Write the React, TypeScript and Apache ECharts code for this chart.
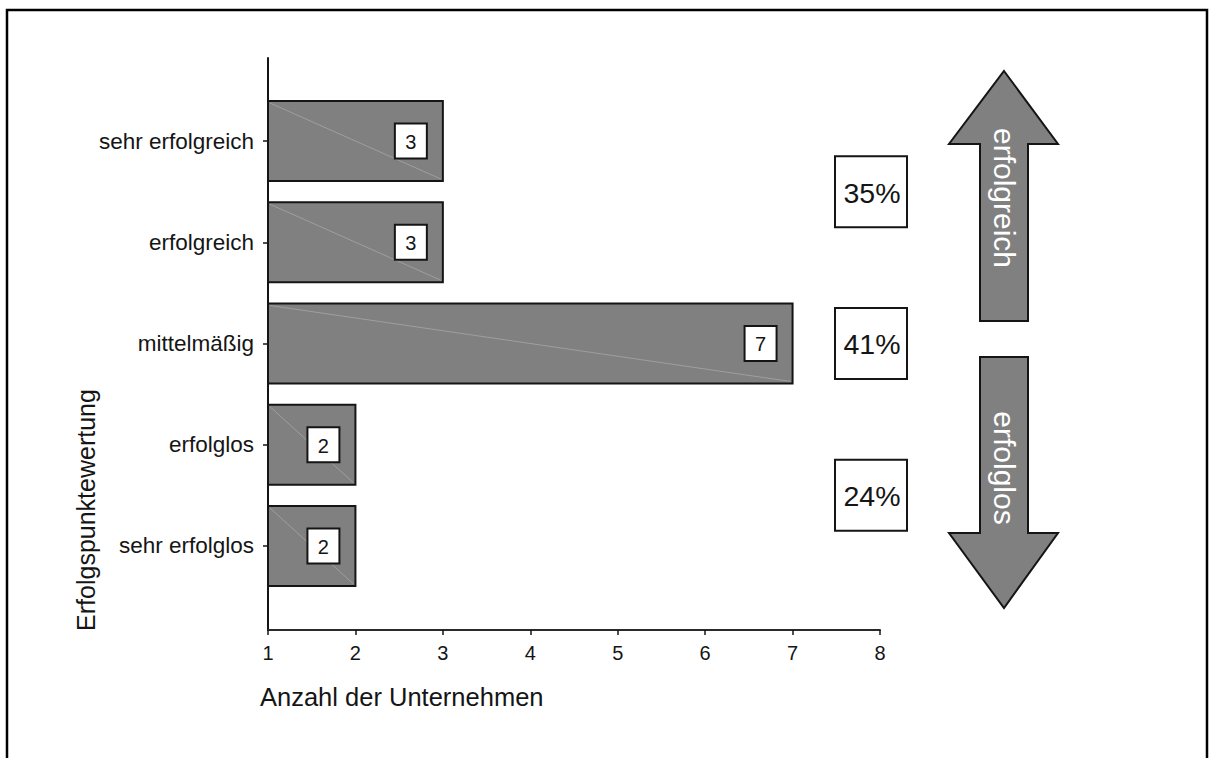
import React, { useEffect, useRef } from "react";
import * as echarts from "echarts";

// ---- data ----
const categories = ["sehr erfolglos", "erfolglos", "mittelmäßig", "erfolgreich", "sehr erfolgreich"];
const counts = [2, 2, 7, 3, 3];
const xTickValues = [1, 2, 3, 4, 5, 6, 7, 8];
const groupLabels = ["35%", "41%", "24%"];
const groupMembers = [[3, 4], [2], [0, 1]]; // category indices per group
const arrowLabels = ["erfolgreich", "erfolglos"];
const xTitle = "Anzahl der Unternehmen";
const yTitle = "Erfolgspunktewertung";

const FONT = '"Liberation Sans", Arial, Helvetica, sans-serif';
const INK = "#151515";
const GREY = "#808080";

export default function App() {
  const ref = useRef<HTMLDivElement>(null);

  useEffect(() => {
    if (!ref.current) return;
    const chart = echarts.init(ref.current, undefined, { renderer: "svg" });

    const positions = categories.map((_, i) => i + 1);
    const barData = counts.map((c, i) => [c, positions[i]]);
    const groupData = groupMembers.map((m) => [
      xTickValues[xTickValues.length - 1],
      m.reduce((s, k) => s + positions[k], 0) / m.length,
    ]);

    const upArrow = [
      [1004, 71], [1058, 144], [1028, 144], [1028, 321], [980, 321], [980, 144], [949, 144],
    ];
    const downArrow = [
      [980, 357], [1028, 357], [1028, 533], [1058, 533], [1004, 608], [949, 533], [980, 533],
    ];

    const option: any = {
      animation: false,
      backgroundColor: "#ffffff",
      grid: { left: 268, top: 58, width: 612, height: 572, containLabel: false },
      xAxis: {
        type: "value",
        min: 1,
        max: 8,
        interval: 1,
        axisLine: { show: true, lineStyle: { color: "#2a2a2a", width: 2 } },
        axisTick: { show: true, inside: false, length: 5, lineStyle: { color: INK, width: 1.5 } },
        axisLabel: { color: INK, fontSize: 20, fontFamily: FONT, margin: 13 },
        splitLine: { show: false },
      },
      yAxis: {
        type: "value",
        min: 0.17,
        max: 5.82,
        axisLine: { show: true, onZero: false, lineStyle: { color: INK, width: 2 } },
        axisTick: {
          show: true,
          inside: false,
          length: 5,
          customValues: positions,
          lineStyle: { color: INK, width: 1.5 },
        },
        axisLabel: {
          color: INK,
          fontSize: 22.5,
          fontFamily: FONT,
          margin: 14,
          customValues: positions,
          formatter: (v: number) => categories[Math.round(v) - 1] ?? "",
        },
        splitLine: { show: false },
      },
      series: [
        {
          type: "custom",
          coordinateSystem: "cartesian2d",
          clip: false,
          data: barData,
          renderItem: (params: any, api: any) => {
            const v = api.value(0);
            const p = api.value(1);
            const s = api.coord([1, p]);
            const e = api.coord([v, p]);
            const h = api.size([0, 0.79])[1];
            const x0 = s[0];
            const x1 = e[0];
            const y0 = s[1] - h / 2;
            const bw = 32;
            const bh = 35;
            const bx = x1 - 16 - bw;
            return {
              type: "group",
              children: [
                {
                  type: "rect",
                  shape: { x: x0, y: y0, width: x1 - x0, height: h },
                  style: { fill: GREY, stroke: INK, lineWidth: 2 },
                },
                {
                  type: "line",
                  shape: { x1: x0 + 2, y1: y0 + 2, x2: x1 - 2, y2: y0 + h - 2 },
                  style: { stroke: "#a6a6a6", lineWidth: 0.8 },
                },
                {
                  type: "rect",
                  shape: { x: bx, y: s[1] - bh / 2, width: bw, height: bh },
                  style: { fill: "#ffffff", stroke: INK, lineWidth: 2 },
                },
                {
                  type: "text",
                  x: bx + bw / 2,
                  y: s[1] + 1,
                  style: {
                    text: String(v),
                    fill: INK,
                    fontSize: 20,
                    fontFamily: FONT,
                    align: "center",
                    verticalAlign: "middle",
                  },
                },
              ],
            };
          },
        },
        {
          type: "custom",
          coordinateSystem: "cartesian2d",
          clip: false,
          data: groupData,
          renderItem: (params: any, api: any) => {
            const c = api.coord([api.value(0), api.value(1)]);
            const cx = c[0] - 9;
            const cy = c[1];
            const w = 72;
            const h = 71;
            return {
              type: "group",
              children: [
                {
                  type: "rect",
                  shape: { x: cx - w / 2, y: cy - h / 2, width: w, height: h },
                  style: { fill: "#ffffff", stroke: INK, lineWidth: 2 },
                },
                {
                  type: "text",
                  x: cx + 1,
                  y: cy + 1,
                  style: {
                    text: groupLabels[params.dataIndex],
                    fill: INK,
                    fontSize: 28.5,
                    fontFamily: FONT,
                    align: "center",
                    verticalAlign: "middle",
                  },
                },
              ],
            };
          },
        },
      ],
      graphic: [
        {
          type: "rect",
          silent: true,
          shape: { x: 7, y: 10, width: 1200, height: 780 },
          style: { fill: "none", stroke: "#000", lineWidth: 2.5 },
        },
        {
          type: "polygon",
          shape: { points: upArrow },
          style: { fill: GREY, stroke: INK, lineWidth: 2 },
        },
        {
          type: "polygon",
          shape: { points: downArrow },
          style: { fill: GREY, stroke: INK, lineWidth: 2 },
        },
        {
          type: "text",
          x: 1004,
          y: 198,
          rotation: -Math.PI / 2,
          style: {
            text: arrowLabels[0],
            fill: "#ffffff",
            fontSize: 30,
            fontFamily: FONT,
            align: "center",
            verticalAlign: "middle",
          },
        },
        {
          type: "text",
          x: 1004,
          y: 468,
          rotation: -Math.PI / 2,
          style: {
            text: arrowLabels[1],
            fill: "#ffffff",
            fontSize: 30,
            fontFamily: FONT,
            align: "center",
            verticalAlign: "middle",
          },
        },
        {
          type: "text",
          x: 260,
          y: 697,
          style: {
            text: xTitle,
            fill: INK,
            fontSize: 25.5,
            fontFamily: FONT,
            align: "left",
            verticalAlign: "middle",
          },
        },
        {
          type: "text",
          x: 86,
          y: 510,
          rotation: Math.PI / 2,
          style: {
            text: yTitle,
            fill: INK,
            fontSize: 25,
            fontFamily: FONT,
            align: "center",
            verticalAlign: "middle",
          },
        },
      ],
    };

    chart.setOption(option);
    return () => chart.dispose();
  }, []);

  return (
    <div
      ref={ref}
      style={{ position: "fixed", left: 0, top: 0, width: 1215, height: 758, background: "#fff" }}
    />
  );
}
